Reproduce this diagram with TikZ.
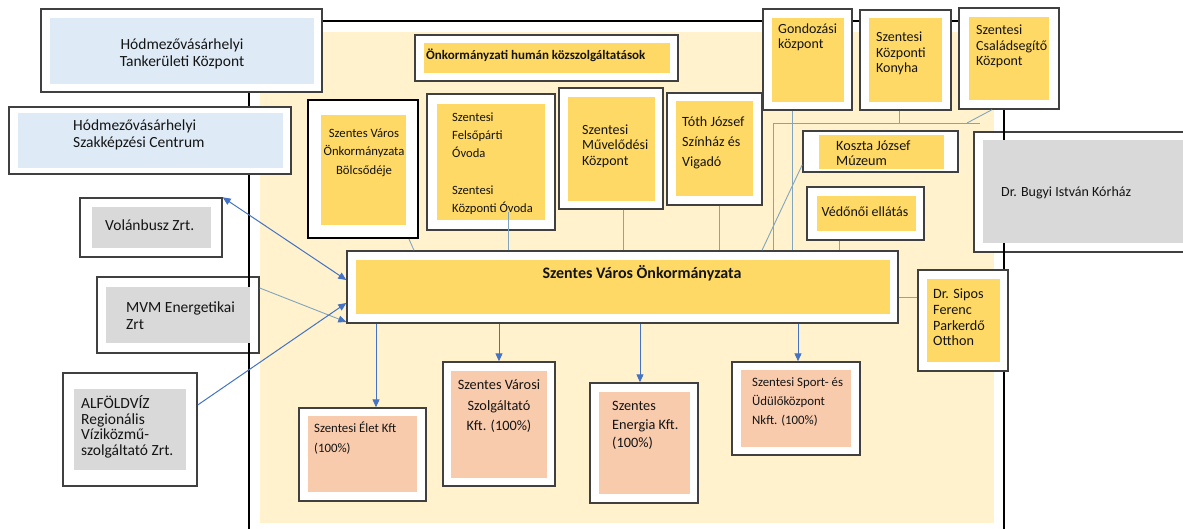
\documentclass[tikz,border=0pt]{standalone}
\usepackage{fontspec}
\setmainfont{Carlito}
\usetikzlibrary{arrows.meta}
\definecolor{cream}{RGB}{255,242,204}
\definecolor{gold}{RGB}{255,217,102}
\definecolor{lblue}{RGB}{222,235,247}
\definecolor{lgray}{RGB}{217,217,217}
\definecolor{peach}{RGB}{248,203,173}
\definecolor{bord}{RGB}{64,64,64}
\definecolor{abl}{RGB}{68,114,196}
\definecolor{lnk}{RGB}{130,165,190}
\definecolor{tx}{RGB}{20,20,20}
\tikzset{
 boxframe/.style={draw=bord,line width=1.4pt,fill=white,inner sep=0pt},
 boxfill/.style={inner sep=0pt,draw=none},
 txt/.style={inner sep=0pt,text=tx,align=left,anchor=west},
 link/.style={draw=lnk,line width=0.9pt},
 tipb/.style={-{Triangle[length=8pt,width=7pt,color=abl]}},
 barrow/.style={draw=abl,line width=1pt,-{Triangle[length=8pt,width=7pt]}},
}
\newcommand\mkbox[6][]{\node[boxframe,#1,minimum width={#5-#3},minimum height={#6-#4}] (#2) at ({(#3+#5)/2},{(#4+#6)/2}) {};}
\newcommand\inbox[6]{\node[boxfill,fill=#6,minimum width={#4-#2},minimum height={#5-#3}] (#1) at ({(#2+#4)/2},{(#3+#5)/2}) {};}
\newcommand\fs[2]{\fontsize{#1}{#2}\selectfont}
\begin{document}
\begin{tikzpicture}[x=1pt,y=-1pt]
\useasboundingbox (0,0) rectangle (1183,529);
% cream background
\fill[cream] (260,32) rectangle (994,523);
% boxes drawn under the frame
\mkbox{mvm}{97}{277}{259}{353}
\mkbox{bugyi}{974}{132}{1194}{252}
% frame
\draw[line width=1.8pt] (249,540) -- (249,21) -- (1004,21) -- (1004,540);
% boxes
\mkbox{tank}{41}{9}{322}{92} \inbox{tankin}{50}{18}{314}{84}{lblue}
\mkbox{szak}{9}{107}{291}{174} \inbox{szakin}{18}{113}{283}{168}{lblue}
\mkbox{volan}{80}{198}{222}{257} \inbox{volanin}{92}{207}{211}{248}{lgray}
\inbox{mvmin}{106}{287}{250}{343}{lgray}
\mkbox{alfold}{63}{373}{197}{486} \inbox{alfoldin}{74}{389}{186}{470}{lgray}
\mkbox{human}{415}{35}{678}{81} \inbox{humanin}{424}{43}{670}{73}{gold}
\mkbox[draw=black,line width=2.2pt]{bolcs}{308}{100}{418}{238} \inbox{bolcsin}{321}{115}{406}{225}{gold}
\mkbox{ovoda}{427}{94}{555}{230} \inbox{ovodain}{437}{104}{545}{220}{gold}
\mkbox{muvel}{559}{88}{663}{209} \inbox{muvelin}{568}{97}{655}{201}{gold}
\mkbox{toth}{667}{93}{762}{205} \inbox{tothin}{676}{101}{753}{196}{gold}
\mkbox{gond}{763}{9}{852}{110} \inbox{gondin}{772}{18}{844}{102}{gold}
\mkbox{konyha}{860}{10}{951}{110} \inbox{konyhain}{869}{18}{942}{102}{gold}
\mkbox{csal}{959}{8}{1059}{109} \inbox{csalin}{969}{17}{1049}{100}{gold}
\mkbox{koszta}{803}{131}{958}{172} \inbox{kosztain}{819}{135}{944}{169}{gold}
\mkbox{vedo}{807}{187}{924}{240} \inbox{vedoin}{817}{196}{916}{231}{gold}
\inbox{bugyiin}{983}{140}{1183}{243}{lgray}
\mkbox{main}{347}{251}{898}{323} \inbox{mainin}{356}{260}{890}{314}{gold}
\mkbox{sipos}{918}{270}{1008}{371} \inbox{siposin}{927}{279}{1000}{362}{gold}
\mkbox{elet}{299}{408}{426}{501} \inbox{eletin}{308}{416}{417}{492}{peach}
\mkbox{varosi}{443}{362}{555}{486} \inbox{varosiin}{451}{371}{547}{478}{peach}
\mkbox{energia}{590}{383}{698}{503} \inbox{energiain}{599}{392}{690}{494}{peach}
\mkbox{sport}{732}{362}{860}{455} \inbox{sportin}{741}{370}{851}{447}{peach}
% texts
\node[txt,font=\fs{15.5}{17},align=center,anchor=center] (tankt) at (182,53.5) {Hódmezővásárhelyi\\Tankerületi Központ};
\node[txt,font=\fs{15.5}{16.5}] (szakt) at (73,135) {Hódmezővásárhelyi\\Szakképzési Centrum};
\node[txt,font=\fs{15.5}{17}] (volant) at (105,225) {Volánbusz Zrt.};
\node[txt,font=\fs{15.5}{17}] (mvmt) at (126,315.5) {MVM Energetikai\\Zrt};
\node[txt,font=\fs{15.5}{15.7}] (alfoldt) at (81,427) {ALFÖLDVÍZ\\Regionális\\Víziközmű-\\szolgáltató Zrt.};
\node[txt,font=\bfseries\fs{13}{14}] (humant) at (426,55) {Önkormányzati humán közszolgáltatások};
\node[txt,font=\fs{12.7}{18.5},align=center,anchor=center] (bolcst) at (364,152.5) {Szentes Város\\Önkormányzata\\Bölcsődéje};
\node[txt,font=\fs{12.6}{18.2}] (ovodat) at (452,163.5) {Szentesi\\Felsőpárti\\Óvoda\\[18.2pt]Szentesi\\Központi Óvoda};
\node[txt,font=\fs{14}{15.5}] (muvelt) at (582,146) {Szentesi\\Művelődési\\Központ};
\node[txt,font=\fs{14.1}{20}] (totht) at (682,143) {Tóth József\\Színház és\\Vigadó};
\node[txt,font=\fs{14}{15.5}] (gondt) at (778,37.5) {Gondozási\\központ};
\node[txt,font=\fs{14}{15.5}] (konyhat) at (876,53.5) {Szentesi\\Központi\\Konyha};
\node[txt,font=\fs{14}{15.5}] (csalt) at (976,46.5) {Szentesi\\Családsegítő\\Központ};
\node[txt,font=\fs{14.2}{15}] (kosztat) at (836,153.5) {Koszta József\\Múzeum};
\node[txt,font=\fs{14}{15.5},anchor=center] (vedot) at (865,212) {Védőnői ellátás};
\node[txt,font=\fs{14}{15.5}] (bugyit) at (1001,193) {Dr. Bugyi István Kórház};
\node[txt,font=\bfseries\fs{16}{18},anchor=center] (maint) at (642,273) {Szentes Város Önkormányzata};
\node[txt,font=\fs{14.2}{15.7}] (sipost) at (933,317.5) {Dr. Sipos\\Ferenc\\Parkerdő\\Otthon};
\node[txt,font=\fs{12.8}{20}] (elett) at (314,438) {Szentesi Élet Kft\\(100\%)};
\node[txt,font=\fs{14.3}{20.5},align=center,anchor=center] (varosit) at (499,406.5) {Szentes Városi\\Szolgáltató\\Kft. (100\%)};
\node[txt,font=\fs{14.3}{18.5}] (energiat) at (612,425.5) {Szentes\\Energia Kft.\\(100\%)};
\node[txt,font=\fs{12.8}{19}] (sportt) at (752,402) {Szentesi Sport- és\\Üdülőközpont\\Nkft. (100\%)};
% helper coordinates
\coordinate (xb1) at (409,0); \coordinate (xb2) at (414,0);
\coordinate (xov) at (508,0); \coordinate (xmu) at (623,0);
\coordinate (xto) at (719,0); \coordinate (xgo) at (792,0);
\coordinate (xko) at (899,0); \coordinate (xkd) at (762,0);
\coordinate (xve) at (839,0);
\coordinate (hubL) at (773,123); \coordinate (hubR) at (980,123); \coordinate (hubC) at (967,123);
\coordinate (xe) at (376,0); \coordinate (xv) at (499,0);
\coordinate (xen) at (640,0); \coordinate (xs) at (798,0);
% thin links
\draw[link] (bolcs.south -| xb1) -- (main.north -| xb2);
\draw[link] (ovodain.south -| xov) ++(0,-8) -- (main.north -| xov);
\draw[link] (muvel.south -| xmu) -- (main.north -| xmu);
\draw[link] (toth.south -| xto) -- (main.north -| xto);
\draw[link] (gond.south -| xgo) -- (main.north -| xgo);
\draw[link] (hubL) -- (hubR);
\draw[link] (konyha.south -| xko) -- (hubL -| xko);
\draw[link] ([xshift=-17pt]csal.south) -- (hubC);
\draw[link] (hubL) -- (main.north -| hubL);
\draw[link] ([yshift=8pt]koszta.south west) -- (main.north -| xkd);
\draw[link] (vedo.south -| xve) -- (main.north -| xve);
\draw[link] ([yshift=-10pt]main.east) -- ([yshift=-10pt]main.east -| sipos.west);
% arrows in
\draw[barrow,{Triangle[length=8pt,width=7pt]}-{Triangle[length=8pt,width=7pt]}] (volan.north east) -- ([yshift=7pt]main.west);
\draw[link,tipb] ([yshift=27pt]mvm.east) -- ([yshift=-35pt]main.west);
\draw[barrow] ([yshift=24.5pt]alfold.east) -- ([yshift=-16pt]main.west);
% arrows down
\draw[barrow] (main.south -| xe) -- (elet.north -| xe);
\draw[barrow] (main.south -| xv) -- (varosi.north -| xv);
\draw[barrow] (main.south -| xen) -- (energia.north -| xen);
\draw[barrow] (main.south -| xs) -- (sport.north -| xs);
\end{tikzpicture}
\end{document}
